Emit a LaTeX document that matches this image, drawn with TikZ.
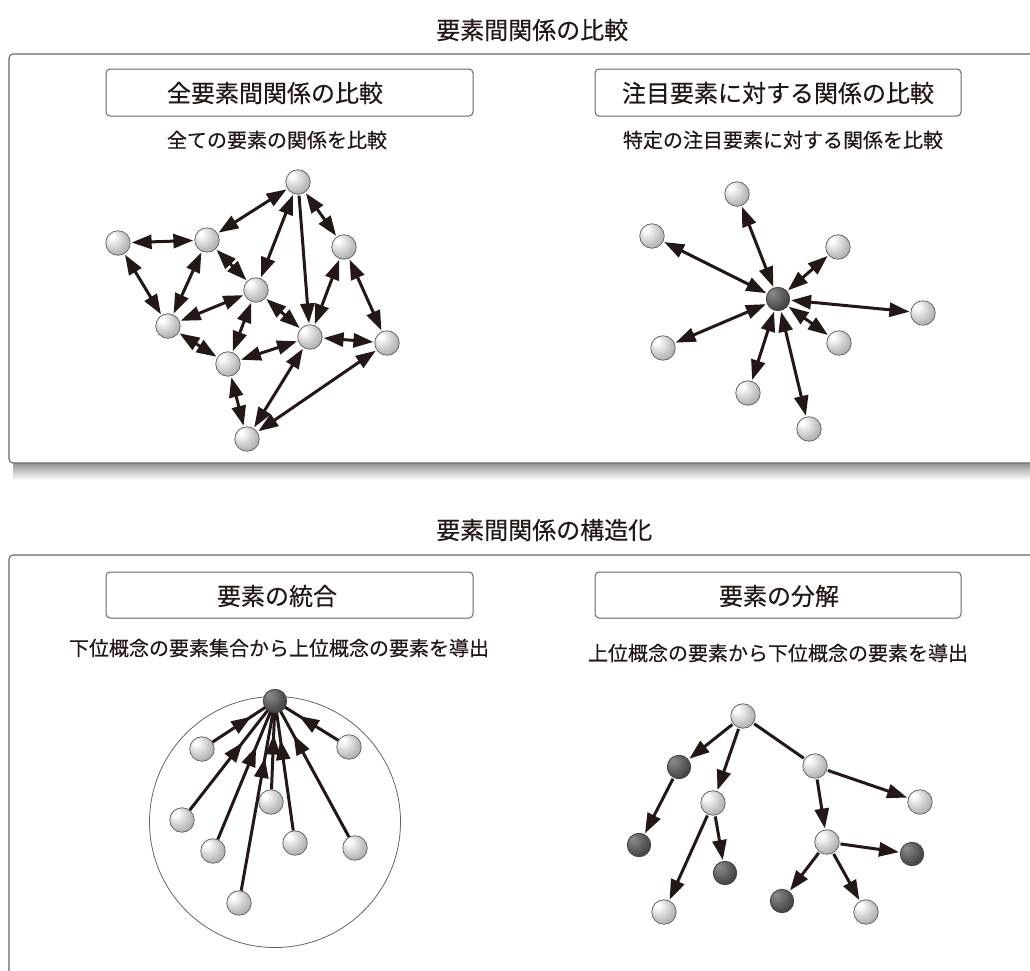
\documentclass[tikz,border=0pt]{standalone}
\usepackage{fontspec}
\newfontfamily\jp[FakeBold=0.35]{Noto Sans CJK JP}
\usetikzlibrary{arrows.meta,decorations.markings}
\definecolor{ink}{HTML}{231815}
\pgfdeclareradialshading{lightball}{\pgfpoint{-14bp}{14bp}}{color(0bp)=(white); color(4bp)=(white); color(26bp)=(black!25); color(50bp)=(black!48); color(66bp)=(black!60)}
\pgfdeclareradialshading{darkball}{\pgfpoint{-14bp}{14bp}}{color(0bp)=(black!45); color(6bp)=(black!50); color(30bp)=(black!72); color(55bp)=(black!90); color(66bp)=(black!94)}
\tikzset{
  tipshape/.tip={Triangle[length=20pt 0 0,width=14pt 0 0]},
  lnode/.style={circle, minimum size=24.5pt, inner sep=0pt, shading=lightball, draw=black!62, line width=0.75pt},
  dnode/.style={circle, minimum size=23.5pt, inner sep=0pt, shading=darkball, draw=black!75, line width=0.75pt},
  conn/.style={draw=ink, line width=3pt, shorten >=1pt, shorten <=1pt},
  both/.style={conn, tipshape-tipshape},
  one/.style={conn, -tipshape},
  plain/.style={conn},
  midtip/.style={draw=ink, line width=3pt, postaction={decorate},
    decoration={markings, mark=at position #1 with {\arrow{tipshape}}}},
  panel/.style={draw=black!60, line width=1.1pt, rounded corners=4pt, fill=white},
  labelbox/.style={draw=black!60, line width=1pt, rounded corners=4pt, fill=white},
  title/.style={text=ink, font=\jp\fontsize{24pt}{28pt}\selectfont, inner sep=0pt},
  boxtext/.style={text=ink, font=\jp\fontsize{24pt}{28pt}\selectfont, inner sep=0pt},
  subtext/.style={text=ink, font=\jp\fontsize{20pt}{24pt}\selectfont, inner sep=0pt}
}
\begin{document}
\begin{tikzpicture}[x=1pt,y=-1pt]
\useasboundingbox (0,0) rectangle (1030,970);
\clip (0,0) rectangle (1030,970);
\fill[white] (0,0) rectangle (1030,970);

% ---------- Panel 1 ----------
\shade[top color=black!45, bottom color=white] (13,462) rectangle (1045,480);
\draw[panel] (9,54) rectangle (1045,463);
\node[title, anchor=west] (t1) at (436,30) {要素間関係の比較};
\draw[labelbox] (106,69) rectangle (473,116);
\node[boxtext] (b1) at (275,93) {全要素間関係の比較};
\draw[labelbox] (595,69) rectangle (961,116);
\node[boxtext] (b2) at (778,93) {注目要素に対する関係の比較};
\node[subtext] (s1) at (277,140) {全ての要素の関係を比較};
\node[subtext] (s2) at (783,140) {特定の注目要素に対する関係を比較};

% network graph
\node[lnode] (A) at (298,182) {};
\node[lnode] (B) at (118,243) {};
\node[lnode] (C) at (207,240) {};
\node[lnode] (D) at (344,247) {};
\node[lnode] (E) at (256,290) {};
\node[lnode] (F) at (168,326) {};
\node[lnode] (G) at (310,337) {};
\node[lnode] (H) at (387,343) {};
\node[lnode] (I) at (228,364) {};
\node[lnode] (J) at (247,439) {};
\draw[both] (B) -- (C);
\draw[both] (C) -- (A);
\draw[both] (A) -- (E);
\draw[one] (A) -- (G);
\draw[both] (A) -- (D);
\draw[both] (B) -- (F);
\draw[both] (C) -- (F);
\draw[both] (C) -- (E);
\draw[both] (E) -- (F);
\draw[both] (E) -- (I);
\draw[both] (E) -- (G);
\draw[both] (D) -- (G);
\draw[both] (D) -- (H);
\draw[both] (F) -- (I);
\draw[both] (I) -- (G);
\draw[both] (G) -- (H);
\draw[both] (I) -- (J);
\draw[both] (G) -- (J);
\draw[both] (H) -- (J);

% star graph
\node[dnode] (S0) at (778,299) {};
\node[lnode] (S1) at (737,194) {};
\node[lnode] (S2) at (652,236) {};
\node[lnode] (S3) at (838,247) {};
\node[lnode] (S4) at (923,313) {};
\node[lnode] (S5) at (663,348) {};
\node[lnode] (S6) at (839,343) {};
\node[lnode] (S7) at (748,393) {};
\node[lnode] (S8) at (809,429) {};
\foreach \n in {S1,S2,S3,S4,S5,S6,S7,S8}{\draw[both] (S0) -- (\n);}

% ---------- Panel 2 ----------
\draw[panel] (9,555) rectangle (1045,1000);
\node[title, anchor=west] (t2) at (436,530) {要素間関係の構造化};
\draw[labelbox] (106,572) rectangle (473,618);
\node[boxtext] (b3) at (277,596) {要素の統合};
\draw[labelbox] (595,572) rectangle (961,618);
\node[boxtext] (b4) at (779,596) {要素の分解};
\node[subtext] (s3) at (279,648) {下位概念の要素集合から上位概念の要素を導出};
\node[subtext] (s4) at (778,653) {上位概念の要素から下位概念の要素を導出};

% integration
\node[circle, draw=black!60, line width=0.8pt, minimum size=251pt, inner sep=0pt] (ring) at (275,822) {};
\node[lnode] (U1) at (202,749) {};
\node[lnode] (U2) at (349,747) {};
\node[lnode] (U3) at (271,802) {};
\node[lnode] (U4) at (182,820) {};
\node[lnode] (U5) at (213,851) {};
\node[lnode] (U6) at (295,843) {};
\node[lnode] (U7) at (355,848) {};
\node[lnode] (U8) at (239,903) {};
\coordinate (top) at (275,701);
\draw[midtip=0.62] (U1) -- (top);
\draw[midtip=0.62] (U2) -- (top);
\draw[midtip=0.62] (U3) -- (top);
\draw[midtip=0.62] (U4) -- (top);
\draw[midtip=0.67] (U5) -- (top);
\draw[midtip=0.70] (U6) -- (top);
\draw[midtip=0.75] (U7) -- (top);
\draw[midtip=0.70] (U8) -- (top);
\node[dnode] (U0) at (top) {};

% decomposition tree
\node[lnode] (R) at (743,716) {};
\node[dnode] (R1) at (679,767) {};
\node[lnode] (R2) at (713,803) {};
\node[lnode] (R3) at (815,766) {};
\node[lnode] (R4) at (920,802) {};
\node[dnode] (R5) at (639,845) {};
\node[dnode] (R6) at (725,873) {};
\node[lnode] (R7) at (827,842) {};
\node[dnode] (R8) at (912,854) {};
\node[lnode] (R9) at (664,912) {};
\node[dnode] (R10) at (782,901) {};
\node[lnode] (R11) at (866,912) {};
\draw[one] (R) -- (R1);
\draw[one] (R) -- (R2);
\draw[plain] (R) -- (R3);
\draw[one] (R3) -- (R4);
\draw[one] (R3) -- (R7);
\draw[one] (R1) -- (R5);
\draw[one] (R2) -- (R9);
\draw[one] (R2) -- (R6);
\draw[one] (R7) -- (R8);
\draw[one] (R7) -- (R10);
\draw[one] (R7) -- (R11);
\end{tikzpicture}
\end{document}
